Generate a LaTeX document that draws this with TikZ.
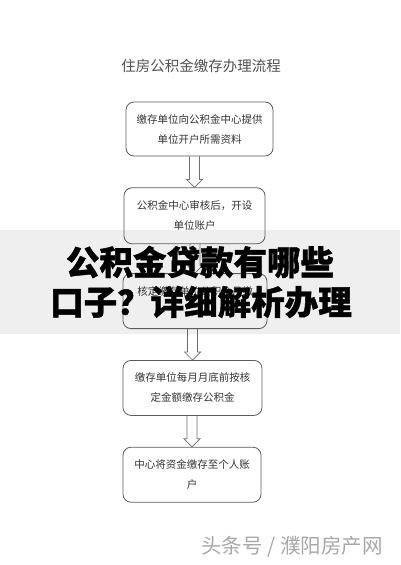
\documentclass[tikz,border=0pt]{standalone}
\usepackage{fontspec}
\newfontfamily\cjk{Noto Sans CJK SC}
\newfontfamily\cjkheavy{Noto Sans CJK SC}[BoldFeatures={FakeBold=1.2}]
\usetikzlibrary{positioning,calc}
\definecolor{flowink}{HTML}{333333}
\definecolor{flowline}{HTML}{5C5C5C}
\definecolor{bandgray}{HTML}{EFEFEF}
\definecolor{markgray}{HTML}{A8A8A8}
\tikzset{
  stepbox/.style={draw=flowline, line width=0.8pt, rounded corners=8pt, align=center, text=flowink, inner sep=0pt, minimum height=55pt, font=\cjk\fontsize{10.5}{20}\selectfont},
  hollow/.style={draw=flowline!90, line width=0.7pt, line join=miter},
  headline/.style={font=\cjkheavy\bfseries\fontsize{33.5}{40}\selectfont, text=black},
}
% hollow block arrow that ends on the top of the next box
\newcommand{\flowarrow}[2]{%
  \draw[hollow] ($(#1.south -| #2.north)+(-5,0)$) -- ($(#2.north)+(-5,-8)$) -- ($(#2.north)+(-8,-8)$)
    -- (#2.north) -- ($(#2.north)+(8,-8)$) -- ($(#2.north)+(5,-8)$) -- ($(#1.south -| #2.north)+(5,0)$);}
\begin{document}
\begin{tikzpicture}[x=1pt, y=-1pt]
  \useasboundingbox[fill=white] (0,0) rectangle (400,565);
  % grey band behind the headline
  \fill[bandgray] (0,230) rectangle (400,334);

  \node[font=\cjk\fontsize{14.5}{16}\selectfont, text=flowink!85] (ttl) at (201,66) {住房公积金缴存办理流程};

  \node[stepbox, minimum width=147pt, minimum height=54pt] (open) at (199.5,129) {缴存单位向公积金中心提供\\单位开户所需资料};
  \node[stepbox, minimum width=141pt, minimum height=56pt, below=31pt of open, xshift=-5pt] (audit) {公积金中心审核后，开设\\单位账户};
  \node[stepbox, minimum width=144pt, below=29pt of audit, xshift=0.5pt] (quota) {核定缴存单位公积金月缴\\\mbox{}};
  \node[stepbox, minimum width=139pt, below=31pt of quota, xshift=-2.5pt] (pay) {缴存单位每月月底前按核\\定金额缴存公积金};
  \node[stepbox, minimum width=138pt, below=31pt of pay, xshift=-0.5pt] (credit) {中心将资金缴存至个人账\\户};

  \flowarrow{open}{audit}
  \flowarrow{audit}{quota}
  \flowarrow{quota}{pay}
  \flowarrow{pay}{credit}

  \node[headline] (hl1) at (200,262) {公积金贷款有哪些};
  \node[headline] (hl2) at (201,302) {口子？详细解析办理};

  \node[font=\cjk\fontsize{20.5}{24}\selectfont, text=markgray] (mark) at (292,547) {头条号 / 濮阳房产网};
\end{tikzpicture}
\end{document}
